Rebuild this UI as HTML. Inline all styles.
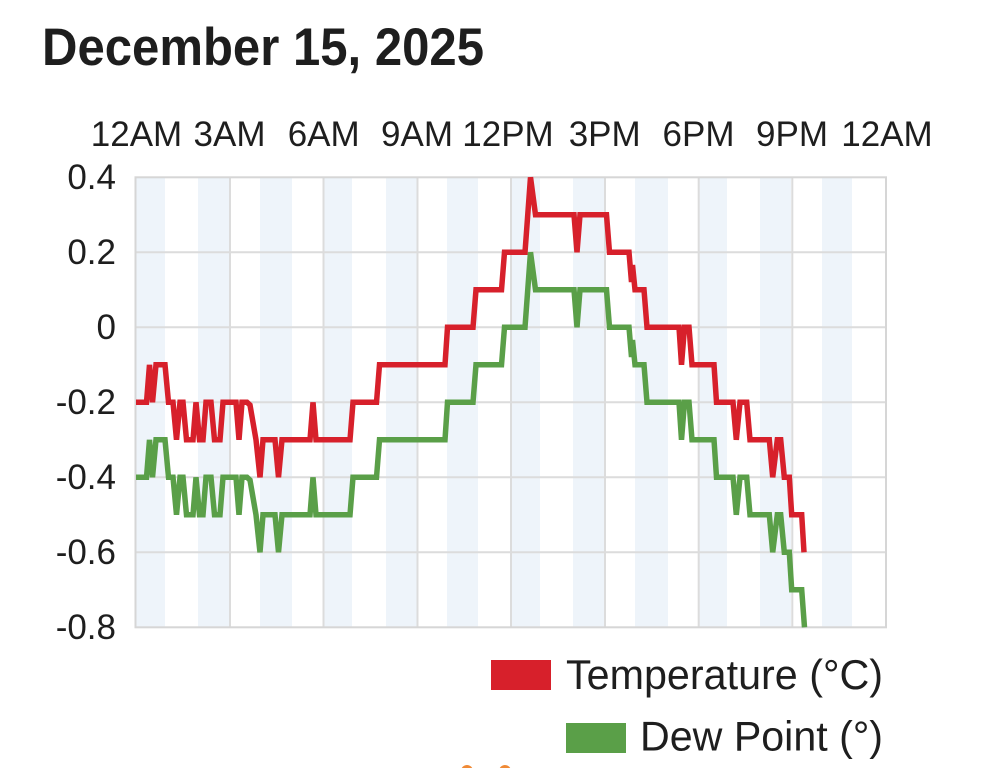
<!DOCTYPE html>
<html>
<head>
<meta charset="utf-8">
<style>
html,body{margin:0;padding:0;background:#ffffff;}
svg{display:block;}
text{font-family:"Liberation Sans",Arial,sans-serif;fill:#1e1e1e;}
</style>
</head>
<body>
<svg width="984" height="768" viewBox="0 0 984 768" xmlns="http://www.w3.org/2000/svg">
  <rect x="0" y="0" width="984" height="768" fill="#ffffff"/>

  <!-- Title -->
  <text x="42" y="65" font-size="53" font-weight="bold" textLength="442" lengthAdjust="spacingAndGlyphs">December 15, 2025</text>

  <!-- X axis labels (top) -->
  <g font-size="35" text-anchor="middle">
    <text x="136.5" y="146">12AM</text>
    <text x="229.5" y="146">3AM</text>
    <text x="323.7" y="146">6AM</text>
    <text x="417" y="146">9AM</text>
    <text x="508" y="146">12PM</text>
    <text x="604.7" y="146">3PM</text>
    <text x="698.5" y="146">6PM</text>
    <text x="792" y="146">9PM</text>
    <text x="887" y="146">12AM</text>
  </g>

  <!-- Y axis labels -->
  <g font-size="35" text-anchor="end">
    <text x="116" y="188.8">0.4</text>
    <text x="116" y="263.8">0.2</text>
    <text x="116" y="338.8">0</text>
    <text x="116" y="413.8">-0.2</text>
    <text x="116" y="488.8">-0.4</text>
    <text x="116" y="563.8">-0.6</text>
    <text x="116" y="638.8">-0.8</text>
  </g>

  <!-- Shaded hour bands -->
  <g fill="#eef4fa">
    <rect x="136" y="177" width="29" height="450"/>
    <rect x="198" y="177" width="31" height="450"/>
    <rect x="260" y="177" width="32" height="450"/>
    <rect x="323" y="177" width="29" height="450"/>
    <rect x="386" y="177" width="31" height="450"/>
    <rect x="447" y="177" width="31" height="450"/>
    <rect x="511" y="177" width="29" height="450"/>
    <rect x="573" y="177" width="32" height="450"/>
    <rect x="635" y="177" width="33" height="450"/>
    <rect x="698" y="177" width="29" height="450"/>
    <rect x="760" y="177" width="31" height="450"/>
    <rect x="822" y="177" width="30" height="450"/>
  </g>

  <!-- Grid lines -->
  <g stroke="#dcdcdc" stroke-width="2" fill="none">
    <line x1="135" y1="252.3" x2="886" y2="252.3"/>
    <line x1="135" y1="327.3" x2="886" y2="327.3"/>
    <line x1="135" y1="402.3" x2="886" y2="402.3"/>
    <line x1="135" y1="477.3" x2="886" y2="477.3"/>
    <line x1="135" y1="552.3" x2="886" y2="552.3"/>
    <line x1="230" y1="177" x2="230" y2="627"/>
    <line x1="323.5" y1="177" x2="323.5" y2="627"/>
    <line x1="417.5" y1="177" x2="417.5" y2="627"/>
    <line x1="511" y1="177" x2="511" y2="627"/>
    <line x1="605" y1="177" x2="605" y2="627"/>
    <line x1="698.7" y1="177" x2="698.7" y2="627"/>
    <line x1="792.3" y1="177" x2="792.3" y2="627"/>
  </g>
  <!-- Plot frame -->
  <rect x="135.5" y="177.3" width="750.5" height="450" fill="none" stroke="#d6d6d6" stroke-width="2"/>

  <defs>
    <clipPath id="plotclip">
      <rect x="130" y="173" width="762" height="460"/>
    </clipPath>
  </defs>

  <g clip-path="url(#plotclip)" fill="none" stroke-width="5.5" stroke-linejoin="miter" stroke-miterlimit="4">
    <!-- Dew point (same shape, shifted by -0.2) -->
    <path transform="translate(0,75)" stroke="#5a9f48" d="M136,402.3 L146.5,402.3 L149.5,364.8 L152.5,402.3 L156,364.8 L165,364.8 L168.5,402.3 L173,402.3 L176.5,439.8 L180,402.3 L183,402.3 L186.5,439.8 L193,439.8 L196,402.3 L199.5,439.8 L203,439.8 L206,402.3 L211,402.3 L214.5,439.8 L220,439.8 L223,402.3 L236,402.3 L239,439.8 L242,402.3 L247,402.3 L250,405 L256,439.8 L260,477.3 L263,439.8 L275,439.8 L278.5,477.3 L282,439.8 L310,439.8 L313,402.3 L316,439.8 L350,439.8 L353,402.3 L376.5,402.3 L379.5,364.8 L445,364.8 L447.5,327.3 L473,327.3 L476,289.8 L501.5,289.8 L504.5,252.3 L525,252.3 L530.5,177.3 L535.5,214.8 L574,214.8 L577,252.3 L580,214.8 L606.5,214.8 L609.5,252.3 L629,252.3 L631.5,282 L632.5,265 L635,289.8 L644,289.8 L647,327.3 L679,327.3 L681.5,364.8 L684.5,327.3 L689,327.3 L692,364.8 L714,364.8 L716.5,402.3 L733,402.3 L736.3,439.8 L740,402.3 L746.7,402.3 L750,439.8 L769.3,439.8 L772.7,477.3 L777.3,439.8 L780.7,439.8 L784.3,477.3 L789.3,477.3 L791.7,514.8 L801.7,514.8 L804.5,552.3"/>
    <!-- Temperature -->
    <path stroke="#d7202b" d="M136,402.3 L146.5,402.3 L149.5,364.8 L152.5,402.3 L156,364.8 L165,364.8 L168.5,402.3 L173,402.3 L176.5,439.8 L180,402.3 L183,402.3 L186.5,439.8 L193,439.8 L196,402.3 L199.5,439.8 L203,439.8 L206,402.3 L211,402.3 L214.5,439.8 L220,439.8 L223,402.3 L236,402.3 L239,439.8 L242,402.3 L247,402.3 L250,405 L256,439.8 L260,477.3 L263,439.8 L275,439.8 L278.5,477.3 L282,439.8 L310,439.8 L313,402.3 L316,439.8 L350,439.8 L353,402.3 L376.5,402.3 L379.5,364.8 L445,364.8 L447.5,327.3 L473,327.3 L476,289.8 L501.5,289.8 L504.5,252.3 L525,252.3 L530.5,177.3 L535.5,214.8 L574,214.8 L577,252.3 L580,214.8 L606.5,214.8 L609.5,252.3 L629,252.3 L631.5,282 L632.5,265 L635,289.8 L644,289.8 L647,327.3 L679,327.3 L681.5,364.8 L684.5,327.3 L689,327.3 L692,364.8 L714,364.8 L716.5,402.3 L733,402.3 L736.3,439.8 L740,402.3 L746.7,402.3 L750,439.8 L769.3,439.8 L772.7,477.3 L777.3,439.8 L780.7,439.8 L784.3,477.3 L789.3,477.3 L791.7,514.8 L801.7,514.8 L804,552.3"/>
  </g>

  <!-- Legend -->
  <rect x="491" y="660" width="60" height="30" fill="#d7202b"/>
  <text x="566" y="689" font-size="42" textLength="317" lengthAdjust="spacingAndGlyphs">Temperature (°C)</text>
  <rect x="566" y="723" width="60" height="30" fill="#5a9f48"/>
  <text x="640" y="750.5" font-size="42" textLength="243" lengthAdjust="spacingAndGlyphs">Dew Point (°)</text>

  <!-- Orange dots at bottom edge -->
  <circle cx="467" cy="771" r="6" fill="#f08a36"/>
  <circle cx="505" cy="771" r="6" fill="#f08a36"/>
</svg>
</body>
</html>
